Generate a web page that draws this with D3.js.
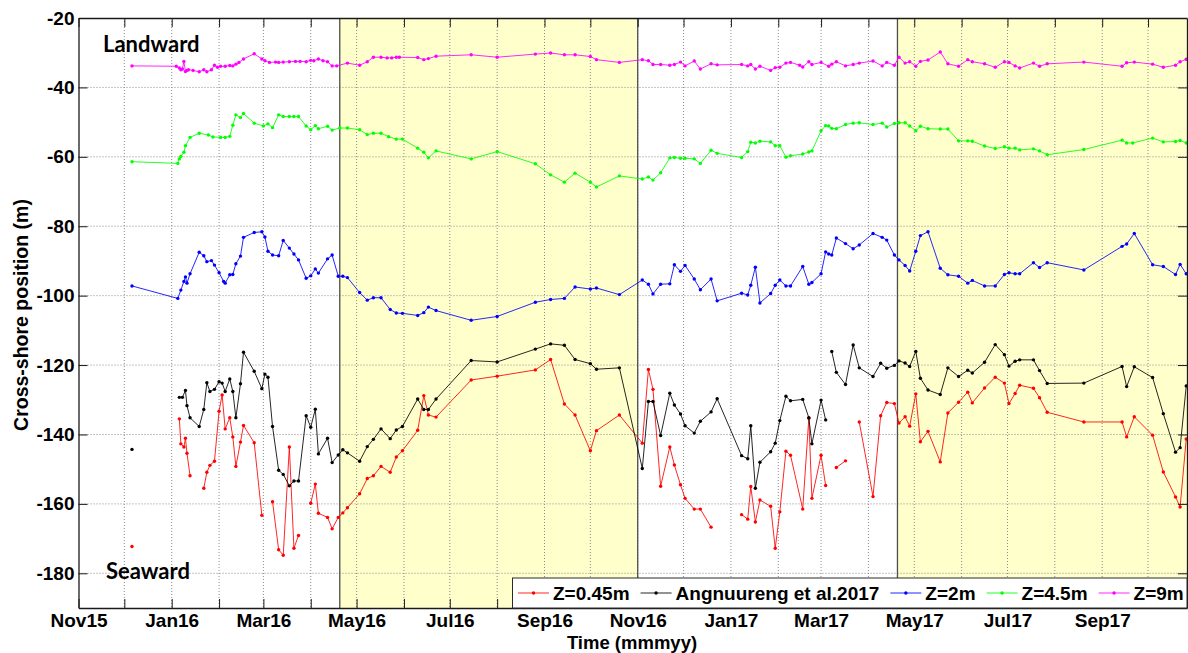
<!DOCTYPE html>
<html>
<head>
<meta charset="utf-8">
<script src="https://cdn.jsdelivr.net/npm/d3@7"></script>
<style>
  html, body { margin: 0; padding: 0; background: #fff; }
  svg { display: block; }
  text { font-family: Arial, "Liberation Sans", sans-serif; font-weight: bold; fill: #000; }
</style>
</head>
<body>
<svg id="chart" width="1188" height="653"></svg>
<script>
// Shoreline cross-shore positions at several elevation contours.
// Survey times are given as days elapsed since 1 Nov 2015; null marks a break in a record.
const surveyStart = "2015-11-01";
const axisEndDay = 725.5;

const xTickLabels = ["Nov15","Jan16","Mar16","May16","Jul16","Sep16","Nov16","Jan17","Mar17","May17","Jul17","Sep17"];
const yTickValues = [-180, -160, -140, -120, -100, -80, -60, -40, -20];
const yDomain = [-190, -20];
const calmSeasons = [["2016-04-20", "2016-11-01"], ["2017-04-20", "2017-11-01"]];

const seriesNames  = ["Z=0.45m", "Angnuureng et al.2017", "Z=2m", "Z=4.5m", "Z=9m"];
const seriesColors = ["#ff0000", "#000000", "#0000ff", "#00ff00", "#ff00ff"];

const z045 = [[35,-172.3],[50,null],[66,-135.5],[67,-142.7],[69,-143.6],[70,-141.1],[71,-145.4],[73,-151.9],[78,null],[82,-155.5],[84,-150.9],[86,-148.9],[89,-147.7],[92,-133.3],[94,-128.6],[96,-138.4],[99,-135.2],[101,-140.7],[103,-149.2],[106,-142.2],[108,-137.4],[115,-142.4],[120,-163.3],[124,null],[127,-159.4],[131,-173.2],[134,-174.8],[138,-143.6],[141,-172.8],[144,-169.1],[148,null],[152,-159.8],[155,-154.3],[157,-162.7],[163,-163.9],[166,-167.2],[170,-163.9],[173,-162.6],[176,-161.1],[184,-157.1],[189,-152.7],[193,-151.9],[198,-149.2],[204,-150.9],[208,-146.5],[212,-144.7],[222,-138.8],[226,-128.8],[229,-134.4],[234,-135.0],[257,-124.3],[274,-123.2],[299,-121.4],[309,-118.4],[318,-131.2],[325,-134.4],[335,-144.7],[339,-138.9],[354,-134.4],[369,-142.5],[373,-121.3],[376,-127.0],[381,-154.9],[387,-143.6],[390,-148.8],[394,-154.5],[397,-158.4],[403,-161.5],[407,-161.5],[414,-166.7],[424,null],[434,-163.1],[438,-164.4],[440,-155.0],[443,-165.2],[446,-158.9],[453,-160.7],[456,-172.8],[459,-162.3],[463,-144.8],[466,-146.0],[474,-161.5],[478,-135.3],[480,-158.4],[486,-146.0],[489,-154.7],[492,null],[496,-149.5],[502,-147.6],[506,null],[511,-136.4],[520,-157.9],[525,-134.6],[529,-130.8],[534,-131.1],[537,-136.7],[541,-134.9],[544,-137.6],[548,-128.3],[551,-142.1],[556,-139.1],[564,-147.9],[569,-133.8],[576,-130.7],[582,-127.8],[585,-130.9],[593,-126.6],[600,-123.5],[606,-125.2],[609,-131.1],[613,-128.2],[616,-125.8],[625,-126.7],[629,-129.4],[634,-133.6],[658,-136.4],[683,-136.4],[686,-140.7],[691,-134.9],[703,-140.2],[710,-150.8],[718,-158.0],[721,-160.9],[725,-141.3]];

const angnuureng = [[35,-144.3],[50,null],[66,-129.3],[68,-129.3],[70,-127.3],[71,-131.7],[73,-135.2],[79,-137.7],[82,-132.8],[84,-125.1],[86,-127.6],[89,-127.0],[92,-124.8],[94,-125.2],[96,-127.6],[99,-124.0],[101,-127.6],[103,-135.2],[106,-125.4],[108,-116.3],[115,-121.8],[120,-126.8],[122,-122.6],[124,-123.5],[127,-137.7],[131,-150.3],[134,-151.5],[138,-154.8],[141,-153.4],[144,-153.4],[149,-134.6],[152,-137.9],[155,-132.7],[157,-145.6],[163,-141.1],[166,-148.1],[170,-145.9],[173,-144.4],[176,-145.3],[184,-147.7],[189,-143.5],[193,-141.4],[198,-138.4],[204,-141.2],[208,-138.7],[212,-137.7],[222,-129.8],[226,-132.8],[229,-132.8],[234,-129.8],[257,-118.7],[274,-119.1],[299,-115.4],[309,-113.9],[318,-114.3],[325,-118.4],[335,-119.6],[339,-121.2],[354,-120.8],[369,-149.8],[373,-130.5],[376,-130.5],[381,-140.3],[387,-128.1],[390,-131.5],[394,-134.1],[397,-137.5],[403,-139.6],[407,-136.2],[414,-133.5],[418,-129.7],[434,-146.1],[438,-147.0],[440,-137.5],[443,-155.5],[446,-148.0],[453,-145.0],[456,-142.5],[459,-136.0],[463,-129.0],[466,-130.3],[474,-129.9],[478,-135.2],[480,-142.7],[486,-130.1],[489,-135.8],[491,null],[493,-116.1],[496,-122.1],[502,-125.6],[507,-114.2],[511,-120.8],[520,-123.3],[525,-119.5],[529,-120.9],[534,-120.1],[537,-118.8],[541,-119.4],[544,-120.4],[548,-116.1],[551,-123.8],[556,-127.2],[564,-128.5],[569,-120.8],[576,-123.3],[582,-121.5],[585,-122.3],[593,-119.2],[600,-114.1],[606,-117.0],[609,-120.3],[613,-118.9],[616,-118.5],[625,-118.5],[629,-121.6],[634,-125.3],[658,-125.2],[683,-120.4],[686,-126.2],[691,-120.5],[703,-123.6],[710,-134.0],[718,-145.1],[721,-143.8],[725,-126.0]];

const z2 = [[35,-97.2],[65,-100.8],[67,-98.4],[69,-95.9],[70,-94.6],[71,-96.4],[73,-93.7],[79,-87.5],[82,-88.5],[84,-90.2],[87,-89.9],[89,-91.2],[92,-93.4],[95,-95.9],[96,-96.4],[99,-94.0],[101,-93.9],[103,-90.8],[106,-88.6],[108,-83.2],[115,-81.8],[120,-81.6],[122,-83.1],[124,-87.2],[127,-88.3],[131,-88.5],[134,-84.1],[138,-86.3],[141,-88.0],[144,-89.7],[149,-95.0],[152,-94.3],[155,-92.3],[157,-93.5],[163,-89.4],[166,-88.3],[170,-94.4],[173,-94.4],[176,-94.8],[184,-99.1],[189,-101.3],[193,-100.6],[198,-100.6],[204,-104.0],[208,-105.0],[212,-105.1],[222,-105.7],[226,-104.9],[229,-103.3],[234,-104.3],[257,-107.1],[274,-106.0],[299,-101.9],[309,-101.1],[318,-100.8],[325,-97.5],[335,-98.1],[339,-97.8],[354,-99.7],[369,-95.5],[373,-96.7],[376,-99.5],[381,-96.7],[387,-96.6],[390,-91.1],[394,-93.0],[397,-91.3],[403,-95.2],[407,-98.3],[414,-95.2],[418,-101.5],[434,-99.3],[438,-99.8],[440,-97.0],[443,-91.8],[446,-102.1],[453,-99.4],[456,-97.0],[459,-95.5],[463,-97.2],[466,-97.2],[474,-91.6],[478,-96.7],[480,-96.2],[486,-93.7],[489,-87.4],[491,-88.0],[493,-88.3],[496,-83.4],[502,-85.0],[507,-86.5],[511,-85.4],[520,-82.1],[526,-83.2],[529,-84.0],[534,-88.3],[537,-89.7],[541,-91.3],[544,-92.9],[548,-87.2],[551,-82.7],[556,-81.6],[564,-92.1],[569,-94.0],[576,-94.4],[582,-96.4],[585,-95.6],[593,-97.2],[600,-97.2],[606,-93.9],[609,-93.4],[613,-93.7],[616,-93.7],[625,-90.5],[629,-91.9],[634,-90.5],[658,-92.6],[683,-85.8],[686,-85.1],[691,-82.1],[703,-91.1],[710,-91.6],[718,-93.9],[721,-91.0],[725,-93.7]];

const z45 = [[35,-61.4],[65,-61.9],[66,-60.6],[67,-59.9],[69,-58.7],[70,-56.8],[73,-54.4],[79,-53.2],[85,-53.7],[88,-54.3],[93,-54.4],[96,-54.4],[99,-54.1],[101,-50.9],[103,-47.9],[106,-48.7],[108,-47.5],[115,-50.3],[121,-51.1],[124,-50.5],[127,-51.6],[131,-47.9],[134,-48.4],[138,-48.4],[141,-48.4],[144,-48.4],[149,-51.1],[152,-52.2],[155,-51.0],[157,-51.9],[163,-51.2],[166,-52.3],[171,-51.7],[176,-51.7],[184,-52.2],[189,-53.6],[193,-53.2],[198,-53.2],[203,-54.2],[208,-54.9],[212,-54.9],[222,-57.5],[226,-58.7],[229,-60.3],[234,-58.3],[257,-60.6],[274,-58.5],[299,-62.0],[309,-65.2],[318,-67.3],[325,-64.7],[335,-67.3],[339,-68.7],[354,-65.5],[369,-66.4],[373,-65.8],[376,-66.7],[381,-64.6],[387,-60.3],[390,-60.2],[394,-60.4],[397,-60.4],[403,-60.6],[407,-61.9],[414,-58.1],[418,-59.0],[434,-60.2],[438,-58.5],[440,-55.8],[443,-56.0],[446,-55.5],[453,-55.7],[456,-56.8],[459,-56.8],[463,-60.1],[466,-59.7],[474,-59.2],[478,-58.6],[480,-58.3],[486,-52.5],[489,-51.0],[491,-51.1],[493,-51.8],[496,-51.9],[502,-50.7],[507,-50.3],[511,-50.2],[520,-50.7],[526,-50.3],[529,-51.4],[534,-50.4],[537,-50.2],[541,-50.2],[544,-51.1],[548,-52.5],[551,-51.2],[556,-51.9],[564,-52.0],[569,-52.0],[576,-55.4],[582,-55.4],[585,-55.5],[593,-56.9],[600,-57.6],[606,-57.1],[609,-57.5],[613,-57.5],[616,-58.0],[625,-57.7],[629,-58.3],[634,-59.4],[658,-57.9],[683,-55.2],[686,-56.0],[690,-56.0],[703,-54.6],[710,-55.7],[718,-55.6],[721,-55.3],[725,-56.0]];

const z9 = [[35,-33.8],[64,-33.9],[66,-34.4],[67,-34.9],[68,-34.7],[69,-32.5],[70,-35.4],[71,-35.1],[72,-34.9],[75,-35.1],[79,-35.5],[82,-34.9],[84,-35.5],[87,-34.9],[89,-33.6],[91,-34.2],[93,-33.9],[96,-33.9],[99,-33.7],[101,-33.8],[103,-33.3],[105,-32.8],[108,-31.8],[115,-30.3],[120,-31.8],[122,-32.3],[125,-32.8],[129,-32.7],[131,-32.8],[134,-32.7],[138,-32.6],[142,-32.5],[145,-32.5],[149,-32.6],[152,-32.2],[154,-32.3],[157,-31.8],[160,-32.3],[163,-32.6],[166,-33.8],[169,-33.8],[176,-33.0],[184,-33.6],[189,-32.6],[193,-31.3],[198,-31.3],[202,-31.5],[205,-31.5],[208,-31.3],[210,-31.3],[222,-31.4],[226,-32.0],[229,-31.7],[234,-31.0],[257,-30.6],[274,-31.3],[299,-30.4],[309,-30.1],[318,-30.6],[325,-30.6],[335,-31.1],[339,-32.0],[354,-32.8],[369,-32.0],[373,-32.3],[376,-33.4],[381,-33.4],[387,-33.6],[390,-33.4],[394,-32.7],[397,-33.8],[403,-32.4],[407,-34.7],[414,-33.2],[418,-33.5],[434,-33.4],[438,-33.8],[440,-33.4],[443,-34.7],[446,-33.9],[453,-35.1],[456,-34.3],[459,-34.2],[463,-33.0],[466,-32.8],[472,-33.6],[474,-34.1],[478,-32.6],[480,-33.4],[486,-32.8],[491,-33.9],[493,-33.3],[496,-32.6],[502,-33.8],[507,-33.4],[511,-33.0],[520,-32.4],[526,-33.8],[529,-32.8],[534,-33.6],[537,-31.3],[541,-33.0],[544,-32.6],[548,-33.9],[551,-32.5],[556,-32.1],[564,-29.8],[569,-33.2],[576,-33.9],[582,-32.0],[585,-32.6],[593,-33.2],[600,-34.2],[606,-32.6],[609,-32.8],[613,-33.8],[616,-34.4],[625,-33.0],[629,-33.9],[634,-33.2],[658,-32.7],[683,-33.9],[686,-32.9],[691,-32.7],[703,-33.3],[710,-34.2],[718,-33.6],[721,-32.6],[725,-31.9]];

const seriesData = [z045, angnuureng, z2, z45, z9];

// ---------- layout ----------
const W = 1188, H = 653;
const plot = { left: 78.5, right: 1187, top: 18, bottom: 608 };

const svg = d3.select("#chart");
const parseDay = d3.utcParse("%Y-%m-%d");
const t0 = parseDay(surveyStart);
const dayToDate = d => new Date(t0.getTime() + d * 864e5);

const x = d3.scaleUtc()
  .domain([t0, dayToDate(axisEndDay)])
  .range([plot.left, plot.right]);
const y = d3.scaleLinear().domain(yDomain).range([plot.bottom, plot.top]);

svg.append("rect").attr("width", W).attr("height", H).attr("fill", "#fff");

svg.append("defs").append("clipPath").attr("id", "plotClip")
  .append("rect")
  .attr("x", plot.left).attr("y", plot.top)
  .attr("width", plot.right - plot.left).attr("height", plot.bottom - plot.top);

// Plot background and calm-season shading
svg.append("rect")
  .attr("x", plot.left).attr("y", plot.top)
  .attr("width", plot.right - plot.left).attr("height", plot.bottom - plot.top)
  .attr("fill", "#fff");

const shadeG = svg.append("g").attr("clip-path", "url(#plotClip)");
calmSeasons.forEach(([a, b]) => {
  const x0 = x(parseDay(a)), x1 = x(parseDay(b));
  shadeG.append("rect")
    .attr("x", x0).attr("y", plot.top)
    .attr("width", x1 - x0).attr("height", plot.bottom - plot.top)
    .attr("fill", "#ffffcc");
});

// Grid
const monthTicks = d3.utcMonth.range(d3.utcMonth.offset(t0, 1), x.domain()[1]);
const gridG = svg.append("g");
gridG.selectAll("line.vg").data(monthTicks).join("line")
  .attr("x1", d => x(d)).attr("x2", d => x(d))
  .attr("y1", plot.top).attr("y2", plot.bottom)
  .attr("stroke", "#8a8a8a").attr("stroke-width", 1)
  .attr("stroke-dasharray", "1,2");
gridG.selectAll("line.hg").data(yTickValues.filter(v => v > yDomain[0] && v < yDomain[1])).join("line")
  .attr("x1", plot.left).attr("x2", plot.right)
  .attr("y1", d => y(d)).attr("y2", d => y(d))
  .attr("stroke", "#8a8a8a").attr("stroke-width", 1)
  .attr("stroke-dasharray", "1,2");

// Season boundary lines
calmSeasons.forEach(([a, b]) => {
  [a, b].forEach(s => {
    const xv = x(parseDay(s));
    if (xv > plot.left && xv < plot.right) {
      svg.append("line")
        .attr("x1", xv).attr("x2", xv)
        .attr("y1", plot.top).attr("y2", plot.bottom)
        .attr("stroke", "#4d4d4d").attr("stroke-width", 1.3);
    }
  });
});

// Series
const seriesG = svg.append("g").attr("clip-path", "url(#plotClip)");
const line = d3.line()
  .defined(d => d[1] !== null)
  .x(d => x(dayToDate(d[0])))
  .y(d => y(d[1]));

seriesData.forEach((data, i) => {
  const g = seriesG.append("g");
  g.append("path")
    .datum(data)
    .attr("d", line)
    .attr("fill", "none")
    .attr("stroke", seriesColors[i])
    .attr("stroke-width", 1)
    .attr("stroke-opacity", 0.85);
  g.selectAll("circle").data(data.filter(d => d[1] !== null)).join("circle")
    .attr("cx", d => x(dayToDate(d[0])))
    .attr("cy", d => y(d[1]))
    .attr("r", 1.7)
    .attr("fill", seriesColors[i]);
});

// Axes: inward ticks on all four sides
const labelDates = new Map(xTickLabels.map(l => [+d3.utcParse("%b%y")(l), l]));
const allMonthTicks = d3.utcMonth.range(t0, x.domain()[1]);
const tickLen = 9;

const xAxisBottom = d3.axisBottom(x)
  .tickValues(allMonthTicks)
  .tickFormat(d => labelDates.get(+d) || "")
  .tickSizeInner(-tickLen).tickSizeOuter(0).tickPadding(5.5);
const gxb = svg.append("g").attr("transform", `translate(0,${plot.bottom})`).call(xAxisBottom);

const xAxisTop = d3.axisTop(x)
  .tickValues(allMonthTicks).tickFormat("")
  .tickSizeInner(-tickLen).tickSizeOuter(0);
const gxt = svg.append("g").attr("transform", `translate(0,${plot.top})`).call(xAxisTop);

const yAxisLeft = d3.axisLeft(y)
  .tickValues(yTickValues)
  .tickFormat(d => String(d))
  .tickSizeInner(-tickLen).tickSizeOuter(0).tickPadding(4);
const gyl = svg.append("g").attr("transform", `translate(${plot.left},0)`).call(yAxisLeft);

const yAxisRight = d3.axisRight(y)
  .tickValues(yTickValues).tickFormat("")
  .tickSizeInner(-tickLen).tickSizeOuter(0);
const gyr = svg.append("g").attr("transform", `translate(${plot.right},0)`).call(yAxisRight);

[gxb, gxt, gyl, gyr].forEach(g => {
  g.select(".domain").attr("stroke", "#1a1a1a").attr("stroke-width", 1.3);
  g.selectAll(".tick line").attr("stroke", "#1a1a1a").attr("stroke-width", 1);
  g.selectAll(".tick text")
    .attr("font-family", "Arial, 'Liberation Sans', sans-serif")
    .attr("font-weight", "bold")
    .attr("font-size", 19)
    .attr("fill", "#000");
});

// Axis titles
svg.append("text")
  .attr("x", 632).attr("y", 648.5)
  .attr("text-anchor", "middle")
  .attr("font-size", 18.5)
  .text("Time (mmmyy)");

svg.append("text")
  .attr("transform", `translate(28,${(plot.top + plot.bottom) / 2 + 2}) rotate(-90)`)
  .attr("text-anchor", "middle")
  .attr("font-size", 19.5)
  .text("Cross-shore position (m)");

// Direction annotations
svg.append("text")
  .attr("x", 103).attr("y", 51.5)
  .style("font-family", "Lato, 'Open Sans', sans-serif")
  .attr("font-size", 22)
  .attr("fill", "#0d0d1a")
  .text("Landward");
svg.append("text")
  .attr("x", 106).attr("y", 579)
  .style("font-family", "Lato, 'Open Sans', sans-serif")
  .attr("font-size", 22)
  .attr("fill", "#0d0d1a")
  .text("Seaward");

// Legend
const legend = { left: 512.5, top: 578, right: 1187, bottom: 608 };
const lg = svg.append("g");
lg.append("rect")
  .attr("x", legend.left).attr("y", legend.top)
  .attr("width", legend.right - legend.left).attr("height", legend.bottom - legend.top)
  .attr("fill", "#fff").attr("stroke", "#2a2a2a").attr("stroke-width", 1);

let cx = legend.left + 5.5;
const ly = (legend.top + legend.bottom) / 2;
seriesNames.forEach((name, i) => {
  lg.append("line")
    .attr("x1", cx).attr("x2", cx + 31)
    .attr("y1", ly).attr("y2", ly)
    .attr("stroke", seriesColors[i]).attr("stroke-width", 1).attr("stroke-opacity", 0.85);
  lg.append("circle")
    .attr("cx", cx + 15.5).attr("cy", ly).attr("r", 1.7)
    .attr("fill", seriesColors[i]);
  const t = lg.append("text")
    .attr("x", cx + 35).attr("y", ly + 7)
    .attr("font-size", 19)
    .text(name);
  cx = cx + 35 + t.node().getComputedTextLength() + 11;
});
</script>
</body>
</html>
